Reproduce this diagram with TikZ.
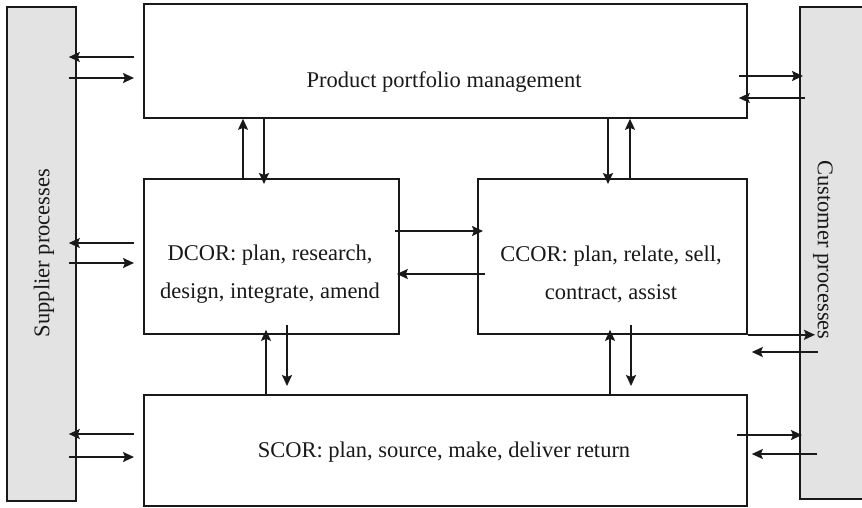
\documentclass[tikz,border=0pt]{standalone}
\usepackage{fontspec}
\setmainfont{Liberation Serif}
\usetikzlibrary{arrows.meta,calc}
\begin{document}
\begin{tikzpicture}[x=1pt,y=-1pt,
  box/.style={draw=black!90, line width=1.8pt, fill=white, anchor=north west, inner sep=0pt},
  side/.style={box, fill=black!11},
  lbl/.style={font=\fontsize{22.5}{38}\selectfont, align=center, text=black!90},
  arr/.style={line width=1.7pt, draw=black!90, -{Stealth[length=11pt,width=10pt,inset=2pt]}}]
\useasboundingbox[fill=white] (0,0) rectangle (862,507);
% boxes
\node[side, minimum width=69pt, minimum height=494pt] (sup) at (6,6) {};
\node[side, minimum width=64pt, minimum height=492pt] (cus) at (799,6) {};
\node[box, minimum width=603pt, minimum height=114pt] (ppm) at (143,3) {};
\node[box, minimum width=255pt, minimum height=155pt] (dcor) at (143,178) {};
\node[box, minimum width=269pt, minimum height=155pt] (ccor) at (477,178) {};
\node[box, minimum width=603pt, minimum height=111pt] (scor) at (143,394) {};
% labels
\node[lbl] (ppmt) at (444,82) {Product portfolio management};
\node[lbl] (dcort) at (270,274) {DCOR: plan, research,\\design, integrate, amend};
\node[lbl] (ccort) at (611,274) {CCOR: plan, relate, sell,\\contract, assist};
\node[lbl] (scort) at (444,452) {SCOR: plan, source, make, deliver return};
\node[lbl, rotate=90] (supt) at (44,253) {Supplier processes};
\node[lbl, rotate=-90] (cust) at (823,250) {Customer processes};
% left side arrows
\draw[arr] ($(ppm.west |- 0,57)+(-9,0)$) -- ($(sup.east |- 0,57)+(-8,0)$);
\draw[arr] ($(sup.east |- 0,78)+(-8,0)$) -- ($(ppm.west |- 0,78)+(-9,0)$);
\draw[arr] ($(dcor.west |- 0,243)+(-9,0)$) -- ($(sup.east |- 0,243)+(-8,0)$);
\draw[arr] ($(sup.east |- 0,263)+(-8,0)$) -- ($(dcor.west |- 0,263)+(-9,0)$);
\draw[arr] ($(scor.west |- 0,434)+(-9,0)$) -- ($(sup.east |- 0,434)+(-8,0)$);
\draw[arr] ($(sup.east |- 0,457)+(-8,0)$) -- ($(scor.west |- 0,457)+(-9,0)$);
% right side arrows
\draw[arr] ($(ppm.east |- 0,76)+(-9,0)$) -- ($(cus.west |- 0,76)+(4,0)$);
\draw[arr] ($(cus.west |- 0,98)+(6,0)$) -- ($(ppm.east |- 0,98)+(-9,0)$);
\draw[arr] (ccor.south east) -- ($(cus.west |- ccor.south east)+(16,0)$);
\draw[arr] ($(cus.west |- 0,352)+(19,0)$) -- ($(ccor.east |- 0,352)+(4,0)$);
\draw[arr] ($(scor.east |- 0,435)+(-11,0)$) -- ($(cus.west |- 0,435)+(3,0)$);
\draw[arr] ($(cus.west |- 0,454)+(18,0)$) -- ($(scor.east |- 0,454)+(4,0)$);
% middle arrows
\draw[arr] ($(dcor.east |- 0,231)+(-5,0)$) -- ($(ccor.west |- 0,231)+(6,0)$);
\draw[arr] ($(ccor.west |- 0,274)+(8,0)$) -- ($(dcor.east |- 0,274)+(-3,0)$);
% vertical arrows top
\draw[arr] ($(dcor.north west)+(100,0)$) -- ($(ppm.south west)+(100,0)$);
\draw[arr] ($(ppm.south west)+(121,0)$) -- ($(dcor.north west)+(121,6)$);
\draw[arr] ($(ppm.south west)+(465,0)$) -- ($(ccor.north west)+(131,6)$);
\draw[arr] ($(ccor.north west)+(153,0)$) -- ($(ppm.south west)+(487,0)$);
% vertical arrows bottom
\draw[arr] ($(scor.north west)+(123,0)$) -- ($(dcor.south west)+(123,-5)$);
\draw[arr] ($(dcor.south west)+(144,-10)$) -- ($(scor.north west)+(144,-8)$);
\draw[arr] ($(scor.north west)+(467,0)$) -- ($(ccor.south west)+(133,-5)$);
\draw[arr] ($(ccor.south west)+(154,-10)$) -- ($(scor.north west)+(488,-8)$);
\end{tikzpicture}
\end{document}
